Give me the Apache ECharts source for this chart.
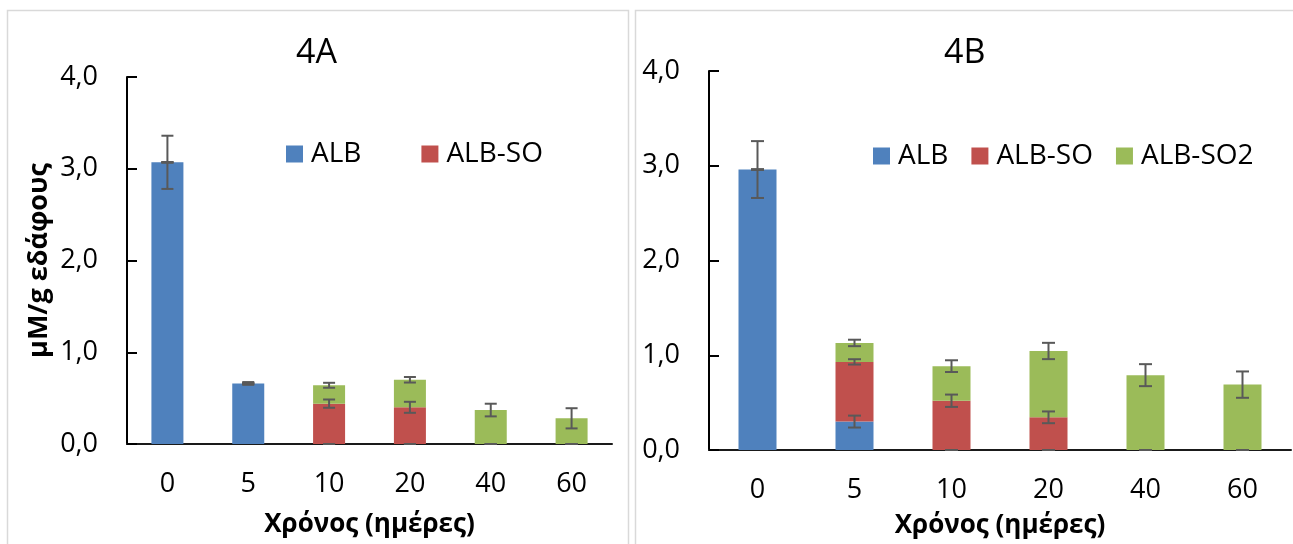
<!DOCTYPE html>
<html><head><meta charset="utf-8">
<script src="https://cdn.jsdelivr.net/npm/echarts@6/dist/echarts.min.js"></script>
<style>html,body{margin:0;padding:0;background:#fff;} #c{width:1293px;height:544px;}</style>
</head><body><div id="c"></div>
<script>
// ---- data ----
const categories = ['0', '5', '10', '20', '40', '60'];
const seriesNames = ['ALB', 'ALB-SO', 'ALB-SO2'];
const legendA = ['ALB', 'ALB-SO'];
const legendB = ['ALB', 'ALB-SO', 'ALB-SO2'];
const titleA = '4A';
const titleB = '4B';
const yAxisName = 'μΜ/g εδάφους';
const xAxisName = 'Χρόνος (ημέρες)';

const A_ALB = [3.07, 0.66, 0, 0, 0, 0];
const A_SO  = [0, 0, 0.44, 0.40, 0, 0];
const A_SO2 = [0, 0, 0.20, 0.30, 0.37, 0.28];
const A_ALB_err = [0.29, 0.015, 0, 0, 0, 0];
const A_SO_err  = [0, 0, 0.045, 0.06, 0, 0];
const A_SO2_err = [0, 0, 0.027, 0.03, 0.069, 0.11];

const B_ALB = [2.96, 0.30, 0, 0, 0, 0];
const B_SO  = [0, 0.63, 0.52, 0.345, 0, 0];
const B_SO2 = [0, 0.20, 0.365, 0.70, 0.79, 0.69];
const B_ALB_err = [0.30, 0.063, 0, 0, 0, 0];
const B_SO_err  = [0, 0.028, 0.065, 0.062, 0, 0];
const B_SO2_err = [0, 0.034, 0.062, 0.086, 0.116, 0.139];

// ---- styles ----
const COLORS = ['#4f81bd', '#c0504d', '#9bbb59'];
const FONT = "'Open Sans', 'Noto Sans', sans-serif";

function errData(vals, errs) {
  const out = [];
  const cum = categories.map(() => 0);
  vals.forEach((arr, s) => {
    arr.forEach((v, i) => {
      cum[i] += v;
      out.push([i, cum[i], errs[s][i]]);
    });
  });
  return out;
}

function errSeries(idx, data, cap) {
  return {
    type: 'custom', xAxisIndex: idx, yAxisIndex: idx, z: 10, silent: true,
    data: data,
    renderItem: function (params, api) {
      const i = api.value(0), top = api.value(1), e = api.value(2);
      const hi = api.coord([i, top + e]);
      const lo = api.coord([i, top - e]);
      const st = { stroke: '#595959', lineWidth: 2 };
      return {
        type: 'group',
        children: [
          { type: 'line', shape: { x1: hi[0], y1: hi[1], x2: lo[0], y2: lo[1] }, style: st },
          { type: 'line', shape: { x1: hi[0] - cap, y1: hi[1], x2: hi[0] + cap, y2: hi[1] }, style: st },
          { type: 'line', shape: { x1: lo[0] - cap, y1: lo[1], x2: lo[0] + cap, y2: lo[1] }, style: st }
        ]
      };
    }
  };
}

function barSeries(idx, name, data, color, width) {
  return {
    type: 'bar', name: name, xAxisIndex: idx, yAxisIndex: idx,
    stack: 'st' + idx, data: data, barWidth: width,
    itemStyle: { color: color },
    emphasis: { disabled: true }
  };
}

const tickFmt = v => v.toFixed(1).replace('.', ',');

function xAxis(idx, gap) {
  return {
    type: 'category', gridIndex: idx, data: categories,
    axisLine: { show: true, onZero: true, lineStyle: { color: '#1a1a1a', width: 2 } },
    axisTick: { show: false },
    axisLabel: { fontFamily: FONT, fontSize: 27, color: '#000', margin: 27 },
    name: xAxisName, nameLocation: 'middle', nameGap: gap,
    nameTextStyle: { fontFamily: FONT, fontSize: 26, fontWeight: 'bold', color: '#000' }
  };
}
function yAxis(idx, withName) {
  const ax = {
    type: 'value', gridIndex: idx, min: 0, max: 4, interval: 1,
    axisLine: { show: true, lineStyle: { color: '#000', width: 2 } },
    axisTick: { show: true, inside: true, length: 10, lineStyle: { color: '#000', width: 2 } },
    splitLine: { show: false },
    axisLabel: { fontFamily: FONT, fontSize: 27, color: '#000', margin: 29, formatter: tickFmt }
  };
  if (withName) {
    ax.name = yAxisName; ax.nameLocation = 'middle'; ax.nameGap = 74;
    ax.nameTextStyle = { fontFamily: FONT, fontSize: 27, fontWeight: 'bold', color: '#000' };
  }
  return ax;
}

const chart = echarts.init(document.getElementById('c'), null, { renderer: 'canvas' });
chart.setOption({
  animation: false,
  backgroundColor: '#fff',
  color: COLORS,
  graphic: [
    { type: 'rect', z: -10, shape: { x: 7.5, y: 10.5, width: 621, height: 560 }, style: { fill: 'none', stroke: '#d9d9d9', lineWidth: 1.5 } },
    { type: 'rect', z: -10, shape: { x: 635.5, y: 10.5, width: 700, height: 560 }, style: { fill: 'none', stroke: '#d9d9d9', lineWidth: 1.5 } }
  ],
  title: [
    { text: titleA, left: 296, top: 36, padding: 0, textStyle: { fontFamily: FONT, fontSize: 34, fontWeight: 'normal', color: '#000' } },
    { text: titleB, left: 944, top: 36, padding: 0, textStyle: { fontFamily: FONT, fontSize: 34, fontWeight: 'normal', color: '#000' } }
  ],
  legend: [
    { data: legendA, left: 286, top: 140, padding: 0, itemWidth: 17, itemHeight: 17, itemGap: 60, icon: 'rect',
      selectedMode: false, textStyle: { fontFamily: FONT, fontSize: 28, color: '#000', padding: [0, 0, 0, 3] } },
    { data: legendB, left: 873, top: 142, padding: 0, itemWidth: 17, itemHeight: 17, itemGap: 23, icon: 'rect',
      selectedMode: false, textStyle: { fontFamily: FONT, fontSize: 28, color: '#000', padding: [0, 0, 0, 3] } }
  ],
  grid: [
    { left: 127, top: 77, width: 485, height: 367, outerBoundsMode: 'none' },
    { left: 709, top: 71, width: 582, height: 379, outerBoundsMode: 'none' }
  ],
  xAxis: [xAxis(0, 68), xAxis(1, 63)],
  yAxis: [yAxis(0, true), yAxis(1, false)],
  series: [
    barSeries(0, seriesNames[0], A_ALB, COLORS[0], 32),
    barSeries(0, seriesNames[1], A_SO, COLORS[1], 32),
    barSeries(0, seriesNames[2], A_SO2, COLORS[2], 32),
    errSeries(0, errData([A_ALB, A_SO, A_SO2], [A_ALB_err, A_SO_err, A_SO2_err]), 6),
    barSeries(1, seriesNames[0], B_ALB, COLORS[0], 38),
    barSeries(1, seriesNames[1], B_SO, COLORS[1], 38),
    barSeries(1, seriesNames[2], B_SO2, COLORS[2], 38),
    errSeries(1, errData([B_ALB, B_SO, B_SO2], [B_ALB_err, B_SO_err, B_SO2_err]), 6.5)
  ]
});
</script>
</body></html>
